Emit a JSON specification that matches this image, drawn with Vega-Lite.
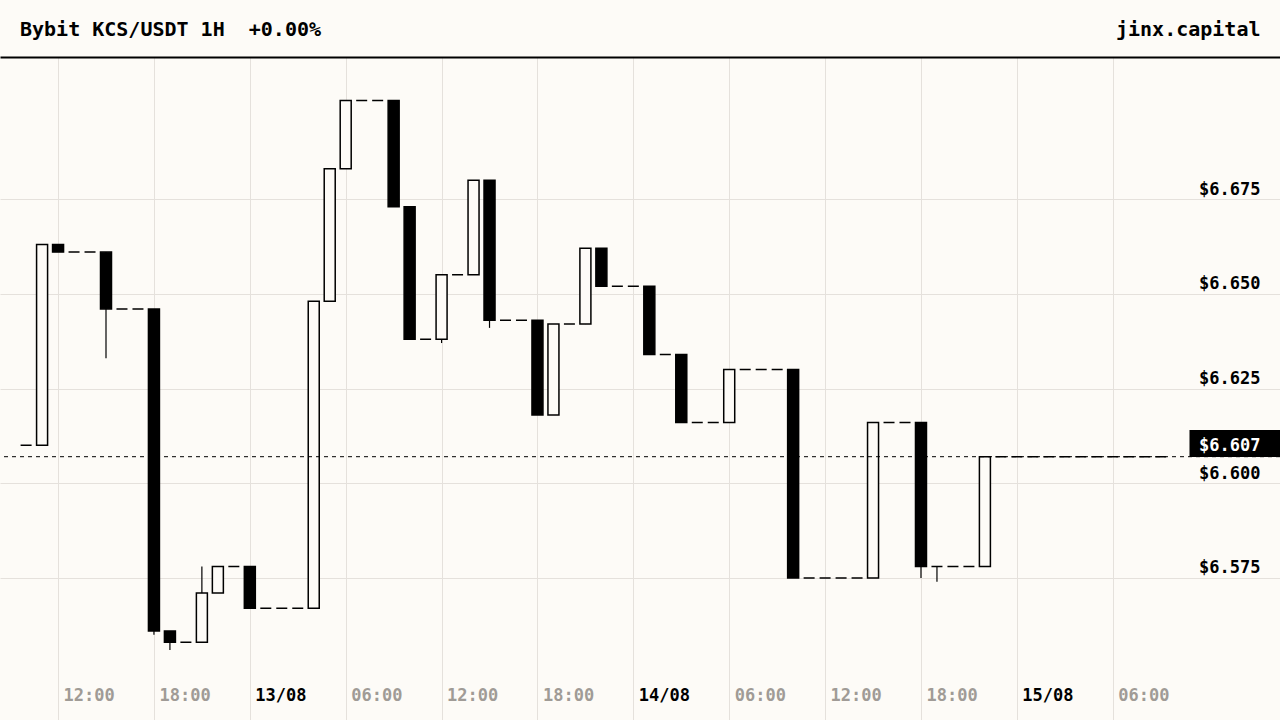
{
  "$schema": "https://vega.github.io/schema/vega-lite/v6.json",
  "width": 1280,
  "height": 663,
  "autosize": {"type": "none"},
  "padding": {"top": 57, "left": 0, "right": 0, "bottom": 0},
  "background": "#fdfbf7",
  "title": {
    "text": "Bybit KCS/USDT 1H\u00a0 +0.00%",
    "anchor": "start",
    "frame": "group",
    "orient": "top",
    "dx": 20,
    "offset": -37,
    "baseline": "alphabetic",
    "font": "DejaVu Sans Mono",
    "fontSize": 20,
    "fontWeight": "bold",
    "color": "#000000"
  },
  "datasets": {
    "candles": [
      {"t": "2024-08-12T10:00:00Z", "o": 6.610, "h": 6.610, "l": 6.610, "c": 6.610},
      {"t": "2024-08-12T11:00:00Z", "o": 6.610, "h": 6.663, "l": 6.610, "c": 6.663},
      {"t": "2024-08-12T12:00:00Z", "o": 6.663, "h": 6.663, "l": 6.661, "c": 6.661},
      {"t": "2024-08-12T13:00:00Z", "o": 6.661, "h": 6.661, "l": 6.661, "c": 6.661},
      {"t": "2024-08-12T14:00:00Z", "o": 6.661, "h": 6.661, "l": 6.661, "c": 6.661},
      {"t": "2024-08-12T15:00:00Z", "o": 6.661, "h": 6.661, "l": 6.633, "c": 6.646},
      {"t": "2024-08-12T16:00:00Z", "o": 6.646, "h": 6.646, "l": 6.646, "c": 6.646},
      {"t": "2024-08-12T17:00:00Z", "o": 6.646, "h": 6.646, "l": 6.646, "c": 6.646},
      {"t": "2024-08-12T18:00:00Z", "o": 6.646, "h": 6.646, "l": 6.560, "c": 6.561},
      {"t": "2024-08-12T19:00:00Z", "o": 6.561, "h": 6.561, "l": 6.556, "c": 6.558},
      {"t": "2024-08-12T20:00:00Z", "o": 6.558, "h": 6.558, "l": 6.558, "c": 6.558},
      {"t": "2024-08-12T21:00:00Z", "o": 6.558, "h": 6.578, "l": 6.558, "c": 6.571},
      {"t": "2024-08-12T22:00:00Z", "o": 6.571, "h": 6.578, "l": 6.571, "c": 6.578},
      {"t": "2024-08-12T23:00:00Z", "o": 6.578, "h": 6.578, "l": 6.578, "c": 6.578},
      {"t": "2024-08-13T00:00:00Z", "o": 6.578, "h": 6.578, "l": 6.567, "c": 6.567},
      {"t": "2024-08-13T01:00:00Z", "o": 6.567, "h": 6.567, "l": 6.567, "c": 6.567},
      {"t": "2024-08-13T02:00:00Z", "o": 6.567, "h": 6.567, "l": 6.567, "c": 6.567},
      {"t": "2024-08-13T03:00:00Z", "o": 6.567, "h": 6.567, "l": 6.567, "c": 6.567},
      {"t": "2024-08-13T04:00:00Z", "o": 6.567, "h": 6.648, "l": 6.567, "c": 6.648},
      {"t": "2024-08-13T05:00:00Z", "o": 6.648, "h": 6.683, "l": 6.648, "c": 6.683},
      {"t": "2024-08-13T06:00:00Z", "o": 6.683, "h": 6.701, "l": 6.683, "c": 6.701},
      {"t": "2024-08-13T07:00:00Z", "o": 6.701, "h": 6.701, "l": 6.701, "c": 6.701},
      {"t": "2024-08-13T08:00:00Z", "o": 6.701, "h": 6.701, "l": 6.701, "c": 6.701},
      {"t": "2024-08-13T09:00:00Z", "o": 6.701, "h": 6.701, "l": 6.673, "c": 6.673},
      {"t": "2024-08-13T10:00:00Z", "o": 6.673, "h": 6.673, "l": 6.638, "c": 6.638},
      {"t": "2024-08-13T11:00:00Z", "o": 6.638, "h": 6.638, "l": 6.638, "c": 6.638},
      {"t": "2024-08-13T12:00:00Z", "o": 6.638, "h": 6.655, "l": 6.637, "c": 6.655},
      {"t": "2024-08-13T13:00:00Z", "o": 6.655, "h": 6.655, "l": 6.655, "c": 6.655},
      {"t": "2024-08-13T14:00:00Z", "o": 6.655, "h": 6.680, "l": 6.655, "c": 6.680},
      {"t": "2024-08-13T15:00:00Z", "o": 6.680, "h": 6.680, "l": 6.641, "c": 6.643},
      {"t": "2024-08-13T16:00:00Z", "o": 6.643, "h": 6.643, "l": 6.643, "c": 6.643},
      {"t": "2024-08-13T17:00:00Z", "o": 6.643, "h": 6.643, "l": 6.643, "c": 6.643},
      {"t": "2024-08-13T18:00:00Z", "o": 6.643, "h": 6.643, "l": 6.618, "c": 6.618},
      {"t": "2024-08-13T19:00:00Z", "o": 6.618, "h": 6.642, "l": 6.618, "c": 6.642},
      {"t": "2024-08-13T20:00:00Z", "o": 6.642, "h": 6.642, "l": 6.642, "c": 6.642},
      {"t": "2024-08-13T21:00:00Z", "o": 6.642, "h": 6.662, "l": 6.642, "c": 6.662},
      {"t": "2024-08-13T22:00:00Z", "o": 6.662, "h": 6.662, "l": 6.652, "c": 6.652},
      {"t": "2024-08-13T23:00:00Z", "o": 6.652, "h": 6.652, "l": 6.652, "c": 6.652},
      {"t": "2024-08-14T00:00:00Z", "o": 6.652, "h": 6.652, "l": 6.652, "c": 6.652},
      {"t": "2024-08-14T01:00:00Z", "o": 6.652, "h": 6.652, "l": 6.634, "c": 6.634},
      {"t": "2024-08-14T02:00:00Z", "o": 6.634, "h": 6.634, "l": 6.634, "c": 6.634},
      {"t": "2024-08-14T03:00:00Z", "o": 6.634, "h": 6.634, "l": 6.616, "c": 6.616},
      {"t": "2024-08-14T04:00:00Z", "o": 6.616, "h": 6.616, "l": 6.616, "c": 6.616},
      {"t": "2024-08-14T05:00:00Z", "o": 6.616, "h": 6.616, "l": 6.616, "c": 6.616},
      {"t": "2024-08-14T06:00:00Z", "o": 6.616, "h": 6.630, "l": 6.616, "c": 6.630},
      {"t": "2024-08-14T07:00:00Z", "o": 6.630, "h": 6.630, "l": 6.630, "c": 6.630},
      {"t": "2024-08-14T08:00:00Z", "o": 6.630, "h": 6.630, "l": 6.630, "c": 6.630},
      {"t": "2024-08-14T09:00:00Z", "o": 6.630, "h": 6.630, "l": 6.630, "c": 6.630},
      {"t": "2024-08-14T10:00:00Z", "o": 6.630, "h": 6.630, "l": 6.575, "c": 6.575},
      {"t": "2024-08-14T11:00:00Z", "o": 6.575, "h": 6.575, "l": 6.575, "c": 6.575},
      {"t": "2024-08-14T12:00:00Z", "o": 6.575, "h": 6.575, "l": 6.575, "c": 6.575},
      {"t": "2024-08-14T13:00:00Z", "o": 6.575, "h": 6.575, "l": 6.575, "c": 6.575},
      {"t": "2024-08-14T14:00:00Z", "o": 6.575, "h": 6.575, "l": 6.575, "c": 6.575},
      {"t": "2024-08-14T15:00:00Z", "o": 6.575, "h": 6.616, "l": 6.575, "c": 6.616},
      {"t": "2024-08-14T16:00:00Z", "o": 6.616, "h": 6.616, "l": 6.616, "c": 6.616},
      {"t": "2024-08-14T17:00:00Z", "o": 6.616, "h": 6.616, "l": 6.616, "c": 6.616},
      {"t": "2024-08-14T18:00:00Z", "o": 6.616, "h": 6.616, "l": 6.575, "c": 6.578},
      {"t": "2024-08-14T19:00:00Z", "o": 6.578, "h": 6.578, "l": 6.574, "c": 6.578},
      {"t": "2024-08-14T20:00:00Z", "o": 6.578, "h": 6.578, "l": 6.578, "c": 6.578},
      {"t": "2024-08-14T21:00:00Z", "o": 6.578, "h": 6.578, "l": 6.578, "c": 6.578},
      {"t": "2024-08-14T22:00:00Z", "o": 6.578, "h": 6.607, "l": 6.578, "c": 6.607},
      {"t": "2024-08-14T23:00:00Z", "o": 6.607, "h": 6.607, "l": 6.607, "c": 6.607},
      {"t": "2024-08-15T00:00:00Z", "o": 6.607, "h": 6.607, "l": 6.607, "c": 6.607},
      {"t": "2024-08-15T01:00:00Z", "o": 6.607, "h": 6.607, "l": 6.607, "c": 6.607},
      {"t": "2024-08-15T02:00:00Z", "o": 6.607, "h": 6.607, "l": 6.607, "c": 6.607},
      {"t": "2024-08-15T03:00:00Z", "o": 6.607, "h": 6.607, "l": 6.607, "c": 6.607},
      {"t": "2024-08-15T04:00:00Z", "o": 6.607, "h": 6.607, "l": 6.607, "c": 6.607},
      {"t": "2024-08-15T05:00:00Z", "o": 6.607, "h": 6.607, "l": 6.607, "c": 6.607},
      {"t": "2024-08-15T06:00:00Z", "o": 6.607, "h": 6.607, "l": 6.607, "c": 6.607},
      {"t": "2024-08-15T07:00:00Z", "o": 6.607, "h": 6.607, "l": 6.607, "c": 6.607},
      {"t": "2024-08-15T08:00:00Z", "o": 6.607, "h": 6.607, "l": 6.607, "c": 6.607},
      {"t": "2024-08-15T09:00:00Z", "o": 6.607, "h": 6.607, "l": 6.607, "c": 6.607}
    ],
    "last": [{"price": 6.607}]
  },
  "layer": [
    {
      "data": {"name": "candles"},
      "mark": {"type": "rule", "color": "#000000", "strokeWidth": 1.2},
      "encoding": {
        "x": {
          "field": "t",
          "type": "temporal",
          "scale": {
            "type": "utc",
            "nice": false,
            "padding": 0,
            "domain": [
              {"year": 2024, "month": 8, "date": 12, "hours": 8, "minutes": 22, "utc": true},
              {"year": 2024, "month": 8, "date": 15, "hours": 16, "minutes": 28, "utc": true}
            ]
          },
          "axis": {
            "orient": "top",
            "domain": true,
            "domainColor": "#000000",
            "domainWidth": 2,
            "ticks": false,
            "labels": false,
            "grid": false,
            "title": "jinx.capital",
            "titleX": 1260,
            "titleY": -22,
            "titleAlign": "right",
            "titleBaseline": "alphabetic",
            "titleFont": "DejaVu Sans Mono",
            "titleFontSize": 20,
            "titleFontWeight": "bold",
            "titleColor": "#000000"
          }
        },
        "y": {
          "field": "l",
          "type": "quantitative",
          "scale": {"domain": [6.5375, 6.7125], "nice": false, "zero": false},
          "axis": {
            "orient": "right",
            "values": [6.575, 6.6, 6.625, 6.65, 6.675],
            "domain": false,
            "ticks": false,
            "tickSize": 0,
            "grid": true,
            "gridColor": "#e5e1dc",
            "gridWidth": 1,
            "labelPadding": -20,
            "labelAlign": "right",
            "labelBaseline": "alphabetic",
            "labelOffset": -5,
            "labelExpr": "'$' + format(datum.value, '.3f')",
            "labelFont": "DejaVu Sans Mono",
            "labelFontSize": 17,
            "labelFontWeight": "bold",
            "labelColor": "#000000",
            "title": null
          }
        },
        "y2": {"field": "h"}
      }
    },
    {
      "data": {"name": "candles"},
      "mark": {"type": "bar", "width": 11, "stroke": "#000000", "strokeWidth": 1.5},
      "encoding": {
        "x": {
          "field": "t",
          "type": "temporal",
          "scale": {"type": "utc", "padding": 0, "nice": false},
          "axis": {
            "orient": "bottom",
            "values": [
              {"year": 2024, "month": 8, "date": 12, "hours": 12, "utc": true},
              {"year": 2024, "month": 8, "date": 12, "hours": 18, "utc": true},
              {"year": 2024, "month": 8, "date": 13, "hours": 0, "utc": true},
              {"year": 2024, "month": 8, "date": 13, "hours": 6, "utc": true},
              {"year": 2024, "month": 8, "date": 13, "hours": 12, "utc": true},
              {"year": 2024, "month": 8, "date": 13, "hours": 18, "utc": true},
              {"year": 2024, "month": 8, "date": 14, "hours": 0, "utc": true},
              {"year": 2024, "month": 8, "date": 14, "hours": 6, "utc": true},
              {"year": 2024, "month": 8, "date": 14, "hours": 12, "utc": true},
              {"year": 2024, "month": 8, "date": 14, "hours": 18, "utc": true},
              {"year": 2024, "month": 8, "date": 15, "hours": 0, "utc": true},
              {"year": 2024, "month": 8, "date": 15, "hours": 6, "utc": true}
            ],
            "domain": false,
            "ticks": false,
            "tickSize": 0,
            "grid": true,
            "gridColor": "#e5e1dc",
            "gridWidth": 1,
            "labelAlign": "left",
            "labelOffset": 5,
            "labelPadding": -20,
            "labelBaseline": "alphabetic",
            "labelFlush": false,
            "labelOverlap": false,
            "labelExpr": "utchours(datum.value) == 0 ? utcFormat(datum.value, '%d/%m') : utcFormat(datum.value, '%H:%M')",
            "labelFont": "DejaVu Sans Mono",
            "labelFontSize": 17,
            "labelFontWeight": "bold",
            "labelColor": {"condition": {"test": "utchours(datum.value) == 0", "value": "#000000"}, "value": "#a09b96"},
            "title": null
          }
        },
        "y": {"field": "o", "type": "quantitative", "axis": null},
        "y2": {"field": "c"},
        "fill": {"condition": {"test": "datum.c < datum.o", "value": "#000000"}, "value": "#fdfbf7"}
      }
    },
    {
      "data": {"name": "last"},
      "mark": {"type": "rule", "color": "#000000", "strokeWidth": 1, "strokeDash": [4, 4]},
      "encoding": {
        "y": {
          "field": "price",
          "type": "quantitative",
          "axis": {
            "orient": "right",
            "values": [6.607],
            "offset": -91,
            "domain": false,
            "grid": false,
            "ticks": true,
            "tickSize": 91,
            "tickWidth": 27,
            "tickColor": "#000000",
            "tickCap": "butt",
            "tickOffset": -13.3,
            "labelPadding": -20,
            "labelAlign": "right",
            "labelBaseline": "alphabetic",
            "labelOffset": 6.7,
            "labelExpr": "'$' + format(datum.value, '.3f')",
            "labelFont": "DejaVu Sans Mono",
            "labelFontSize": 17,
            "labelFontWeight": "bold",
            "labelColor": "#ffffff",
            "title": null
          }
        }
      }
    }
  ],
  "resolve": {"axis": {"x": "independent", "y": "independent"}},
  "config": {"view": {"stroke": null}}
}
